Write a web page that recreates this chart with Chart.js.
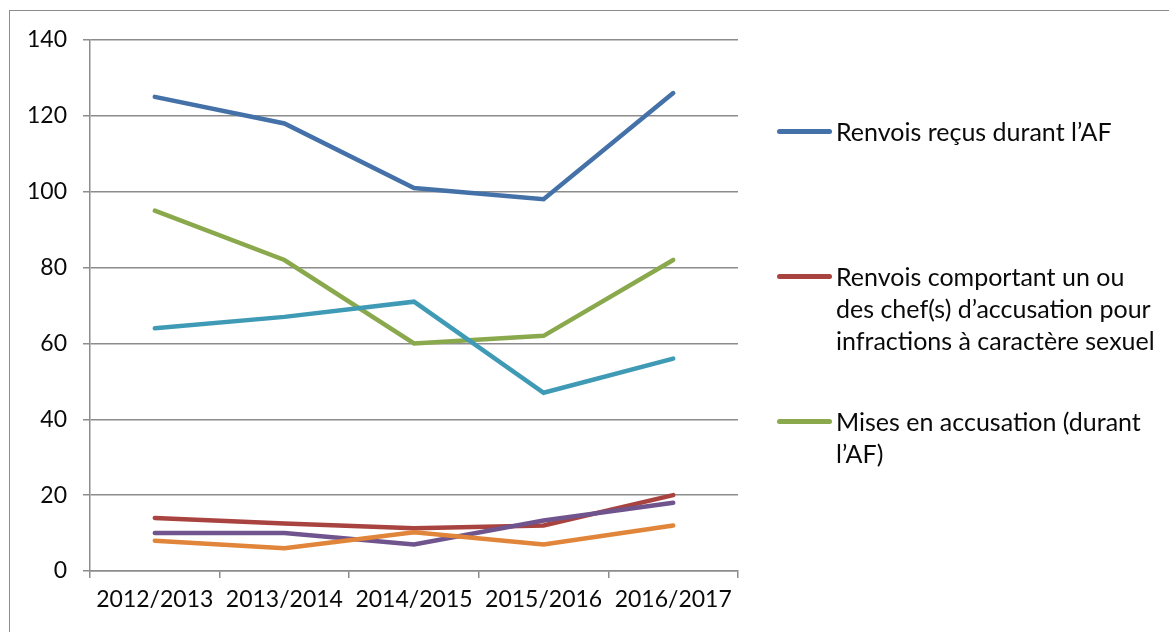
<!DOCTYPE html>
<html>
<head>
<meta charset="utf-8">
<script src="https://cdn.jsdelivr.net/npm/chart.js@4.4.1/dist/chart.umd.min.js"></script>
<style>
  html, body { margin: 0; padding: 0; background: #fff; }
  #wrap { position: relative; width: 1169px; height: 632px; overflow: hidden; }
  #frame { position: absolute; left: 9px; top: 10px; width: 1200px; height: 700px; border: 1.5px solid #8c8c8c; }
  #c { position: absolute; left: 0; top: 0; }
  #legend { position: absolute; left: 777px; top: 0; font-family: Lato, sans-serif; font-size: 25px; color: #0a0a0a; }
  .item { position: absolute; left: 0; width: 392px; line-height: 32px; }
  .item .swatch { position: absolute; left: 0; top: 14px; width: 55px; height: 4.5px; border-radius: 3px; }
  .item .txt { margin-left: 59px; display: block; white-space: nowrap; }
</style>
</head>
<body>
<div id="wrap">
  <div id="frame"></div>
  <canvas id="c" width="1169" height="632"></canvas>
  <div id="legend"></div>
</div>
<script>
const years = ["2012/2013", "2013/2014", "2014/2015", "2015/2016", "2016/2017"];
const yTicks = [0, 20, 40, 60, 80, 100, 120, 140];

const renvoisRecus = [125, 118, 101, 98, 126];
const renvoisSexuels = [14, 12.5, 11.3, 12, 20];
const misesEnAccusation = [95, 82, 60, 62, 82];
const serie4 = [10, 10, 7, 13.3, 18];
const serie5 = [64, 67, 71, 47, 56];
const serie6 = [8, 6, 10.2, 7, 12];

const series = [
  { label: "Renvois reçus durant l’AF", data: renvoisRecus, color: "#4471a8", legend: ["Renvois reçus durant l’AF"], top: 115 },
  { label: "Renvois comportant un ou des chef(s) d’accusation pour infractions à caractère sexuel", data: renvoisSexuels, color: "#a9433f",
    legend: ["Renvois comportant un ou", "des chef(s) d’accusation pour", "infractions à caractère sexuel"], top: 260 },
  { label: "Mises en accusation (durant l’AF)", data: misesEnAccusation, color: "#8aa94c", legend: ["Mises en accusation (durant", "l’AF)"], top: 405 },
  { label: "Série 4", data: serie4, color: "#6f548e" },
  { label: "Série 5", data: serie5, color: "#3f9ab6" },
  { label: "Série 6", data: serie6, color: "#e0853a" }
];

// legend (only the first three entries are visible in the original)
const leg = document.getElementById("legend");
series.filter(s => s.legend).forEach(s => {
  const d = document.createElement("div");
  d.className = "item";
  d.style.top = s.top + "px";
  d.innerHTML = '<span class="swatch" style="background:' + s.color + '"></span><span class="txt">' + s.legend.join("<br>") + '</span>';
  leg.appendChild(d);
});

const gridColor = "#8c8c8c";
const font = { family: "Lato, sans-serif", size: 23 };

// draw order: later datasets on top like Excel
new Chart(document.getElementById("c"), {
  type: "line",
  data: {
    labels: years,
    datasets: series.map((s, i) => ({
      label: s.label,
      data: s.data,
      borderColor: s.color,
      backgroundColor: s.color,
      borderWidth: 4.5,
      borderCapStyle: "round",
      borderJoinStyle: "miter",
      pointRadius: 0,
      tension: 0,
      order: -i
    }))
  },
  options: {
    responsive: false,
    animation: false,
    layout: { padding: { left: 0, right: 431, top: 40, bottom: 0 } },
    plugins: { legend: { display: false }, tooltip: { enabled: false } },
    scales: {
      x: {
        offset: true,
        grid: { offset: true, drawOnChartArea: false, drawTicks: true, tickLength: 7, color: gridColor, lineWidth: 1.5 },
        border: { color: gridColor, width: 1.5 },
        ticks: { color: "#0a0a0a", font: font, padding: 8, maxRotation: 0, autoSkip: false },
        afterFit: s => { s.height = 61; }
      },
      y: {
        min: 0, max: 140,
        afterBuildTicks: s => { s.ticks = yTicks.map(v => ({ value: v })); },
        grid: { color: gridColor, lineWidth: 1.5, tickLength: 7 },
        border: { color: gridColor, width: 1.5 },
        ticks: { color: "#0a0a0a", font: font, padding: 16 },
        afterFit: s => { s.width = 90; }
      }
    }
  }
});
</script>
</body>
</html>
